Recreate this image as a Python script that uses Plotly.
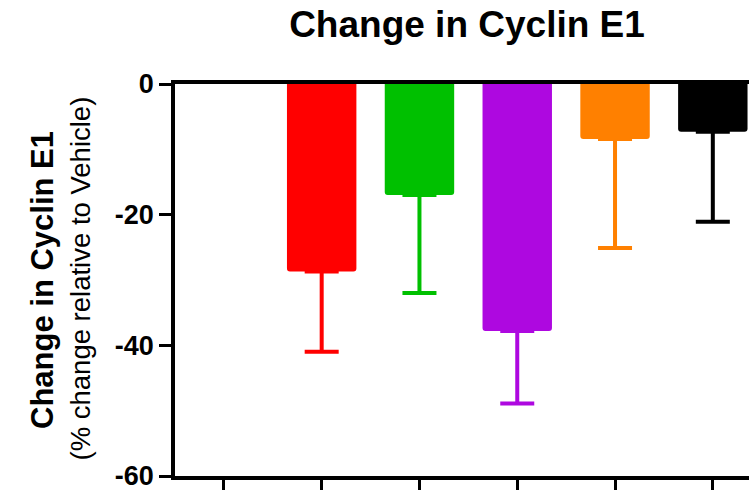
import plotly.graph_objects as go

categories = ["Vehicle", "Group 1", "Group 2", "Group 3", "Group 4", "Group 5"]
values = [0, -28.7, -17.0, -37.8, -8.4, -7.3]
errors = [0, 12.3, 15.0, 11.1, 16.7, 13.8]
colors = ["#FFFFFF", "#FF0000", "#00C000", "#AE08E0", "#FF8000", "#000000"]
y_ticks = [0, -20, -40, -60]

FONT = "Liberation Sans, Arial, sans-serif"

fig = go.Figure()
for i, (cat, v, e, c) in enumerate(zip(categories, values, errors, colors)):
    if v == 0:
        continue
    fig.add_trace(go.Bar(
        x=[cat], y=[v], width=0.71,
        marker=dict(color=c, line=dict(width=0), cornerradius=3),
        error_y=dict(type="data", symmetric=False, array=[0], arrayminus=[e],
                     color=c, thickness=4, width=17),
        showlegend=False,
    ))

fig.update_layout(
    width=749, height=490,
    margin=dict(l=175, r=0, t=84, b=14, autoexpand=False),
    paper_bgcolor="white", plot_bgcolor="white",
    barmode="overlay",
    font=dict(family=FONT, color="black"),
    title=dict(text="<b>Change in Cyclin E1</b>", font=dict(size=37, family=FONT, color="black"),
               x=467/749, xanchor="center", xref="container",
               y=1 - 24/490, yanchor="middle", yref="container"),
)

fig.update_xaxes(
    type="category", categoryorder="array", categoryarray=categories,
    range=[-0.5, 5.37],
    showticklabels=False, ticks="outside", ticklen=11, tickwidth=3, tickcolor="black",
    showline=True, linewidth=3.5, linecolor="black", mirror=True,
    showgrid=False, zeroline=False,
)
fig.update_yaxes(
    range=[-60, 0], tickvals=y_ticks, ticktext=[str(t) for t in y_ticks],
    ticks="outside", ticklen=12, tickwidth=3, tickcolor="black",
    tickfont=dict(size=27, family=FONT, color="black", weight="bold"),
    ticklabeloverflow="allow",
    showline=True, linewidth=3.5, linecolor="black",
    showgrid=False, zeroline=False,
)

fig.add_annotation(text="<b>Change in Cyclin E1</b>", textangle=-90,
                   xref="paper", yref="paper", x=-(175-42)/574, y=(476-280)/392,
                   xanchor="center", yanchor="middle", showarrow=False,
                   font=dict(size=31, family=FONT, color="black"))
fig.add_annotation(text="(% change relative to Vehicle)", textangle=-90,
                   xref="paper", yref="paper", x=-(175-80)/574, y=(476-278.5)/392,
                   xanchor="center", yanchor="middle", showarrow=False,
                   font=dict(size=27.5, family=FONT, color="black"))

fig.write_html("out.html")
